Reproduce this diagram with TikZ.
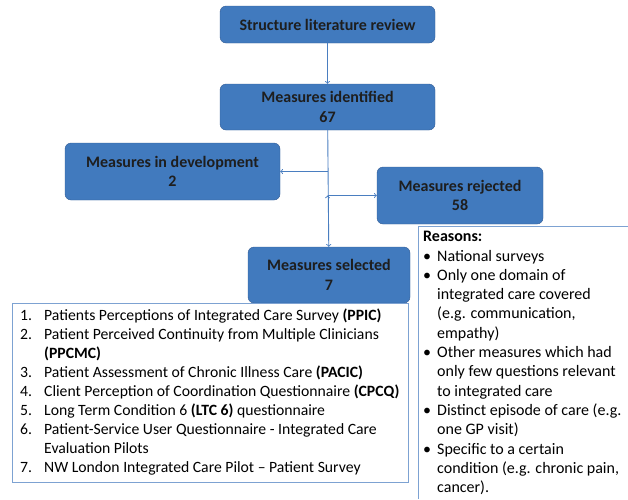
\documentclass[tikz,border=0pt]{standalone}
\usepackage{fontspec}
\setmainfont{Carlito}
\usetikzlibrary{positioning}
\definecolor{boxblue}{RGB}{65,122,190}
\definecolor{boxline}{RGB}{52,92,148}
\definecolor{arrowblue}{RGB}{74,126,192}
\definecolor{listline}{RGB}{125,162,210}
\definecolor{boxtext}{RGB}{30,30,30}

\begin{document}
\begin{tikzpicture}[x=1pt,y=-1pt,
  stage/.style={draw=boxline,fill=boxblue,rounded corners=6pt,text=boxtext,
    font=\fontsize{16}{19.5}\selectfont\bfseries,align=center,inner sep=0pt},
  note/.style={anchor=north west,inner sep=0pt},
  flow/.style={draw=arrowblue,line width=0.9pt,-to}]
  \useasboundingbox (0,0) rectangle (628,499);
  \node[stage,minimum width=215pt,minimum height=37pt] (review) at (327.5,24.5) {Structure literature review};
  \node[stage,minimum width=215pt,minimum height=46pt] (ident) at (327.5,107) {Measures identified\\67};
  \node[stage,minimum width=215pt,minimum height=57pt] (dev) at (172.5,171.5) {Measures in development\\2};
  \node[stage,minimum width=166pt,minimum height=57pt] (rej) at (460,195.5) {Measures rejected\\58};
  \node[stage,minimum width=162pt,minimum height=56pt] (sel) at (329,275) {Measures selected\\7};
  \node[note,draw=listline,fill=white,minimum width=396pt,minimum height=179pt] (tools) at (12,303) {};
  \node[note,anchor=west,font=\fontsize{15.7}{19}\selectfont] (toolstext) at ([xshift=8pt]tools.west) {%
    \begin{tabular}{@{}p{24pt}@{}l@{}}
    1. & Patients Perceptions of Integrated Care Survey \textbf{(PPIC)}\\
    2. & Patient Perceived Continuity from Multiple Clinicians\\
       & \textbf{(PPCMC)}\\
    3. & Patient Assessment of Chronic Illness Care \textbf{(PACIC)}\\
    4. & Client Perception of Coordination Questionnaire \textbf{(CPCQ)}\\
    5. & Long Term Condition 6 \textbf{(LTC 6)} questionnaire\\
    6. & Patient-Service User Questionnaire - Integrated Care\\
       & Evaluation Pilots\\
    7. & NW London Integrated Care Pilot – Patient Survey
    \end{tabular}};
  \node[note,font=\fontsize{16}{19.3}\selectfont] (reasons) at (423,228) {%
    \begin{tabular}{@{}p{14pt}@{}l@{}}
    \multicolumn{2}{@{}l}{\textbf{Reasons:}}\\
    \textbullet & National surveys\\
    \textbullet & Only one domain of\\
                & integrated care covered\\
                & (e.g. communication,\\
                & empathy)\\
    \textbullet & Other measures which had\\
                & only few questions relevant\\
                & to integrated care\\
    \textbullet & Distinct episode of care (e.g.\\
                & one GP visit)\\
    \textbullet & Specific to a certain\\
                & condition (e.g. chronic pain,\\
                & cancer).
    \end{tabular}};
  \draw[listline,line width=0.8pt] (628,226) -- (418,226) -- (418,499);
  \path[flow]
    (review) edge (ident)
    (ident) edge (sel)
    (ident.south |- dev.east) edge (dev.east)
    (ident.south |- rej.west) edge (rej.west);
\end{tikzpicture}
\end{document}
